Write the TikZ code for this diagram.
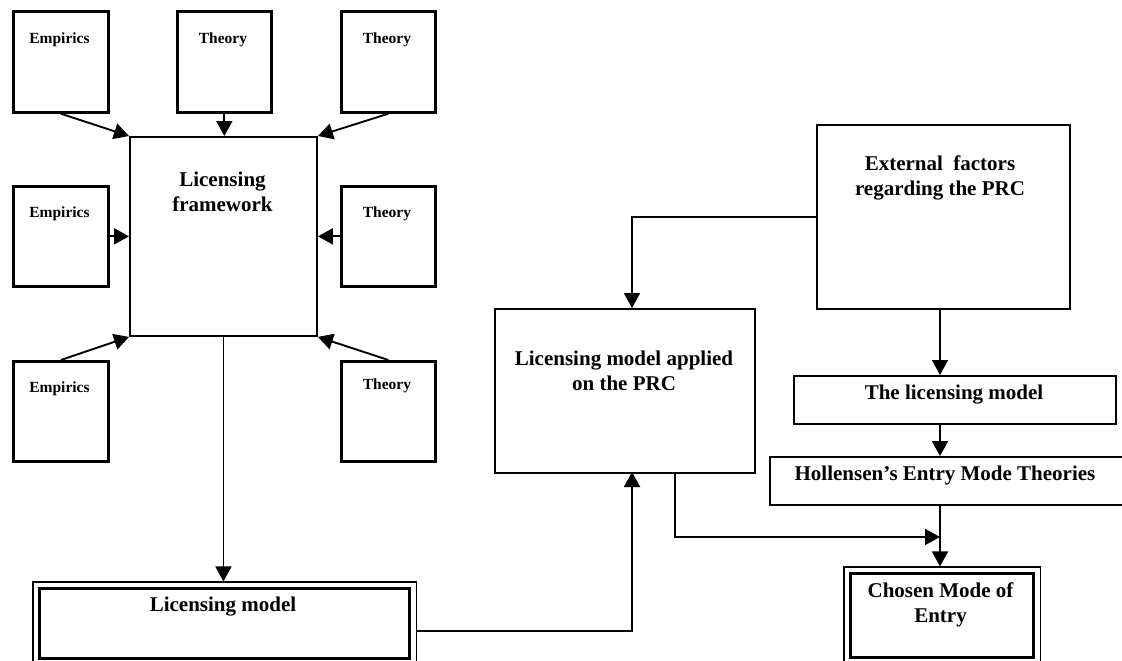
\documentclass[tikz,border=0pt]{standalone}
\usepackage{fontspec}
\setmainfont{Liberation Serif}
\usetikzlibrary{arrows.meta,fit,calc}
\begin{document}
\begin{tikzpicture}[x=1pt,y=-1pt,
  box/.style={draw, line width=1.9pt, inner sep=0pt, anchor=north west},
  smallbox/.style={box, line width=2.7pt},
  inner/.style={box, line width=3.3pt},
  outer/.style={draw, line width=1.2pt, inner sep=5pt},
  smalltxt/.style={font=\fontsize{15.5}{18}\selectfont\bfseries},
  bigtxt/.style={font=\fontsize{21}{25}\selectfont\bfseries, align=center},
  arr/.style={line width=1.9pt, -{Triangle[length=15pt,width=16pt]}},
  ln/.style={line width=1.9pt}]
\useasboundingbox (0,0) rectangle (1122,661);
% small boxes
\node[smallbox, minimum width=95pt, minimum height=101pt] (e1) at (12,10) {};
\node[smallbox, minimum width=94pt, minimum height=101pt] (t1) at (176,10) {};
\node[smallbox, minimum width=94pt, minimum height=101pt] (t2) at (340,10) {};
\node[smallbox, minimum width=95pt, minimum height=100pt] (e2) at (12,185) {};
\node[smallbox, minimum width=94pt, minimum height=100pt] (t3) at (340,185) {};
\node[smallbox, minimum width=95pt, minimum height=100pt] (e3) at (12,360) {};
\node[smallbox, minimum width=94pt, minimum height=100pt] (t4) at (340,360) {};
\node[smalltxt] (e1t) at (59.5,40) {Empirics};
\node[smalltxt] (t1t) at (223,40) {Theory};
\node[smalltxt] (t2t) at (387,40) {Theory};
\node[smalltxt] (e2t) at (59.5,214) {Empirics};
\node[smalltxt] (t3t) at (387,214) {Theory};
\node[smalltxt] (e3t) at (59.5,389) {Empirics};
\node[smalltxt] (t4t) at (387,386) {Theory};
% licensing framework
\node[box, minimum width=187pt, minimum height=199pt] (lf) at (129,136) {};
\node[bigtxt] (lft) at (222.5,192) {Licensing\\framework};
% licensing model (double)
\node[inner, minimum width=370pt, minimum height=70pt] (lm) at (38,587) {};
\node[outer, fit=(lm)] (lmo) {};
\node[bigtxt] (lmt) at (223,607) {Licensing model};
% applied
\node[box, minimum width=260pt, minimum height=164pt] (app) at (494,308) {};
\node[bigtxt] (appt) at (624,370.5) {Licensing model applied\\on the PRC};
% external
\node[box, minimum width=253pt, minimum height=184pt] (ext) at (816,124) {};
\node[bigtxt] (extt) at (940,178) {External~ factors\\regarding the PRC};
% the licensing model
\node[box, minimum width=322pt, minimum height=48pt] (tlm) at (793,375) {};
\node[bigtxt] (tlmt) at (954,395) {The licensing model};
% hollensen
\node[box, minimum width=365pt, minimum height=48pt] (hol) at (769,456) {};
\node[bigtxt] (holt) at (945,475) {Hollensen’s Entry Mode Theories};
% chosen mode
\node[inner, minimum width=183pt, minimum height=84pt] (cm) at (849,572) {};
\node[outer, fit=(cm)] (cmo) {};
\node[bigtxt] (cmt) at (940.5,604.5) {Chosen Mode of\\Entry};
% coordinates
\coordinate (vx) at (940,0);
\coordinate (appin) at (632,472);
\coordinate (appout) at (675,472);
\coordinate (join) at (940,537);
% connectors
\draw[arr] (e1.south) -- (lf.north west);
\draw[arr] (t1.south) -- (t1.south |- lf.north);
\draw[arr] (t2.south) -- (lf.north east);
\draw[arr] (e2.east) -- (e2.east -| lf.west);
\draw[arr] (t3.west) -- (t3.west -| lf.east);
\draw[arr] (e3.north) -- (lf.south west);
\draw[arr] (t4.north) -- (lf.south east);
\draw[arr] (lf.south) -- (lf.south |- lmo.north);
\draw[arr] ([yshift=-7pt]lmo.east) -| (appin);
\draw[arr] (ext.west) -| (app.north -| appin);
\draw[arr] (ext.south -| vx) -- (tlm.north -| vx);
\draw[arr] (tlm.south -| vx) -- (hol.north -| vx);
\draw[ln] (hol.south -| vx) -- (join);
\draw[arr] (join) -- (cmo.north -| vx);
\draw[arr] (appout) |- (join);
\end{tikzpicture}
\end{document}
